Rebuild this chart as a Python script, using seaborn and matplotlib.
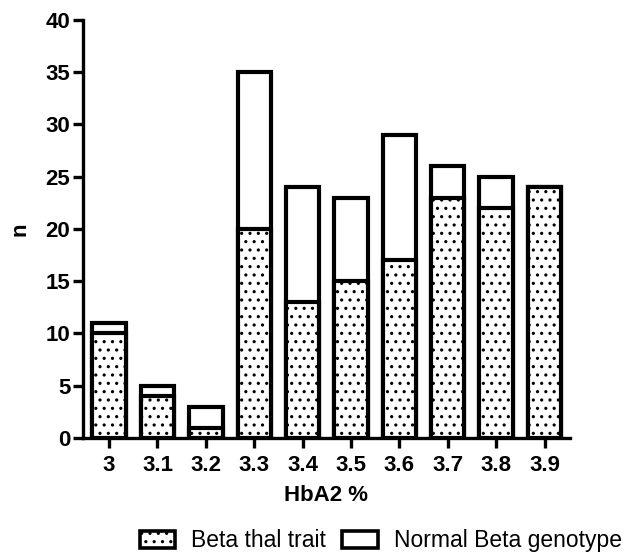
import matplotlib
matplotlib.use("Agg")
import matplotlib.pyplot as plt
import seaborn as sns
import pandas as pd
from matplotlib.patches import Patch

categories = ["3", "3.1", "3.2", "3.3", "3.4", "3.5", "3.6", "3.7", "3.8", "3.9"]
beta_thal = [10, 4, 1, 20, 13, 15, 17, 23, 22, 24]
normal_beta = [1, 1, 2, 15, 11, 8, 12, 3, 3, 0]

sns.set_style("ticks")
plt.rcParams['font.family'] = ['Liberation Sans', 'DejaVu Sans']
plt.rcParams['hatch.linewidth'] = 1.1
for k in ['text.color', 'axes.labelcolor', 'xtick.color', 'ytick.color',
          'axes.edgecolor']:
    plt.rcParams[k] = 'black'

df = pd.DataFrame({"HbA2": categories, "thal": beta_thal,
                   "total": [a + b for a, b in zip(beta_thal, normal_beta)]})

fig = plt.figure(figsize=(6.24, 5.53), dpi=100)
ax = fig.add_axes([0.133, 0.208, 0.78, 0.756])

sns.barplot(data=df, x="HbA2", y="total", color="white", edgecolor="black",
            linewidth=3.0, width=0.69, ax=ax, order=categories)
sns.barplot(data=df, x="HbA2", y="thal", color="white", edgecolor="black",
            linewidth=3.0, width=0.69, ax=ax, order=categories, hatch="..")

ax.set_ylim(0, 40)
ax.set_xlim(-0.54, 9.52)
ax.set_yticks(range(0, 41, 5))
for s in ["top", "right"]:
    ax.spines[s].set_visible(False)
for s in ["left", "bottom"]:
    ax.spines[s].set_linewidth(2.4)
    ax.spines[s].set_color("black")
ax.tick_params(axis="both", width=2.4, length=7, labelsize=16, pad=2,
               color="black", labelcolor="black")
ax.tick_params(axis="x", pad=5)
for lab in ax.get_xticklabels() + ax.get_yticklabels():
    lab.set_fontweight("bold")
ax.set_xlabel("HbA2 %", fontsize=16, fontweight="bold", labelpad=7, color="black")
ax.set_ylabel("n", fontsize=16, fontweight="bold", labelpad=11, color="black")

handles = [Patch(facecolor="white", edgecolor="black", hatch="..", linewidth=2.6),
           Patch(facecolor="white", edgecolor="black", linewidth=2.6)]
fig.legend(handles, ["Beta thal trait", "Normal Beta genotype"], ncol=2,
           loc="center", bbox_to_anchor=(0.61, 0.022), frameon=False,
           fontsize=16.5, handlelength=1.55, handleheight=0.75, columnspacing=0.7,
           handletextpad=0.7, labelcolor="black")

fig.savefig("out.png", dpi=100)
